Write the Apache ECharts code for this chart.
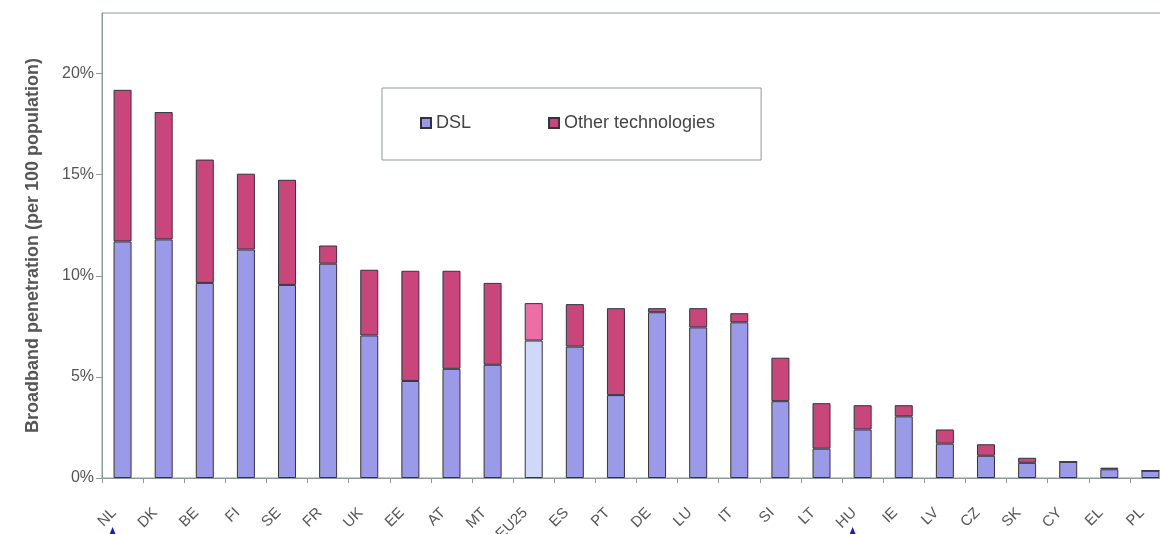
<!DOCTYPE html>
<html>
<head>
<meta charset="utf-8">
<script src="https://cdn.jsdelivr.net/npm/echarts@6/dist/echarts.min.js"></script>
<style>
html,body{margin:0;padding:0;background:#fff;}
#chart{width:1160px;height:534px;}
</style>
</head>
<body>
<div id="chart"></div>
<script>
const categories = ['NL','DK','BE','FI','SE','FR','UK','EE','AT','MT','EU25','ES','PT','DE','LU','IT','SI','LT','HU','IE','LV','CZ','SK','CY','EL','PL'];
const dslValues   = [11.7, 11.8, 9.65, 11.3, 9.55, 10.6, 7.05, 4.8, 5.4, 5.6, 6.8, 6.5, 4.1, 8.2, 7.45, 7.7, 3.8, 1.45, 2.4, 3.05, 1.7, 1.1, 0.75, 0.8, 0.43, 0.36];
const otherValues = [7.5, 6.3, 6.1, 3.75, 5.2, 0.9, 3.25, 5.45, 4.85, 4.05, 1.85, 2.1, 4.3, 0.2, 0.95, 0.45, 2.15, 2.25, 1.2, 0.55, 0.7, 0.57, 0.25, 0, 0.08, 0];
const yTicks = [0, 5, 10, 15, 20];
const highlightCategory = 'EU25';
const arrowCategories = ['NL', 'HU'];

const FONT = "'Liberation Sans', Arial, sans-serif";
const DSL_COLOR = '#9a9ae8', OTHER_COLOR = '#c8467a';
const DSL_LIGHT = '#cfd8f8', OTHER_LIGHT = '#ec6ea5';

function build(values, light) {
  return values.map((v, i) => categories[i] === highlightCategory
    ? { value: v, itemStyle: { color: light } } : v);
}

const chart = echarts.init(document.getElementById('chart'));
chart.setOption({
  animation: false,
  backgroundColor: '#ffffff',
  grid: {
    left: 102, top: 13, width: 1069, height: 465,
    outerBoundsMode: 'none', containLabel: false,
    show: true, borderColor: '#8e9a98', borderWidth: 1, backgroundColor: 'transparent'
  },
  legend: {
    left: 382, top: 88,
    padding: [26, 46, 28, 38],
    borderColor: '#8e9a98', borderWidth: 1,
    itemWidth: 10, itemHeight: 10, itemGap: 77,
    icon: 'rect',
    textStyle: { fontFamily: FONT, fontSize: 18, color: '#444' },
    data: ['DSL', 'Other technologies']
  },
  xAxis: {
    type: 'category',
    data: categories,
    boundaryGap: true,
    axisLine: { lineStyle: { color: '#8e9a98', width: 1 } },
    axisTick: { show: true, length: 5, lineStyle: { color: '#8e9a98' } },
    axisLabel: { rotate: 45, interval: 0, margin: 24, padding: [0, 12, 0, 0], fontFamily: FONT, fontSize: 15, color: '#555' }
  },
  yAxis: {
    type: 'value',
    min: 0, max: 23, interval: 5,
    name: 'Broadband penetration (per 100 population)',
    nameLocation: 'middle', nameGap: 60,
    nameTextStyle: { fontFamily: FONT, fontSize: 18, fontWeight: 'bold', color: '#555' },
    splitLine: { show: false },
    axisLine: { show: true, lineStyle: { color: '#8e9a98', width: 1 } },
    axisTick: { show: true, length: 6, customValues: yTicks, lineStyle: { color: '#8e9a98' } },
    axisLabel: {
      margin: 8, fontFamily: FONT, fontSize: 16, color: '#555',
      customValues: yTicks,
      formatter: v => v + '%'
    }
  },
  series: [
    {
      name: 'DSL', type: 'bar', stack: 'total', barWidth: 18,
      itemStyle: { color: DSL_COLOR, borderColor: '#33333f', borderWidth: 1 },
      data: build(dslValues, DSL_LIGHT)
    },
    {
      name: 'Other technologies', type: 'bar', stack: 'total', barWidth: 18,
      itemStyle: { color: OTHER_COLOR, borderColor: '#33333f', borderWidth: 1 },
      data: build(otherValues, OTHER_LIGHT)
    }
  ]
});

// small blue arrowheads under two category labels, placed from the axis scale
const arrows = arrowCategories.map(c => {
  const p = chart.convertToPixel({ xAxisIndex: 0, yAxisIndex: 0 }, [c, 0]);
  const x = p[0] - 10, y = p[1] + 49;
  return {
    type: 'polygon',
    shape: { points: [[x, y], [x - 5, y + 12], [x + 5, y + 12]] },
    style: { fill: '#1a1ad0' },
    silent: true
  };
});
chart.setOption({ graphic: arrows });
</script>
</body>
</html>
